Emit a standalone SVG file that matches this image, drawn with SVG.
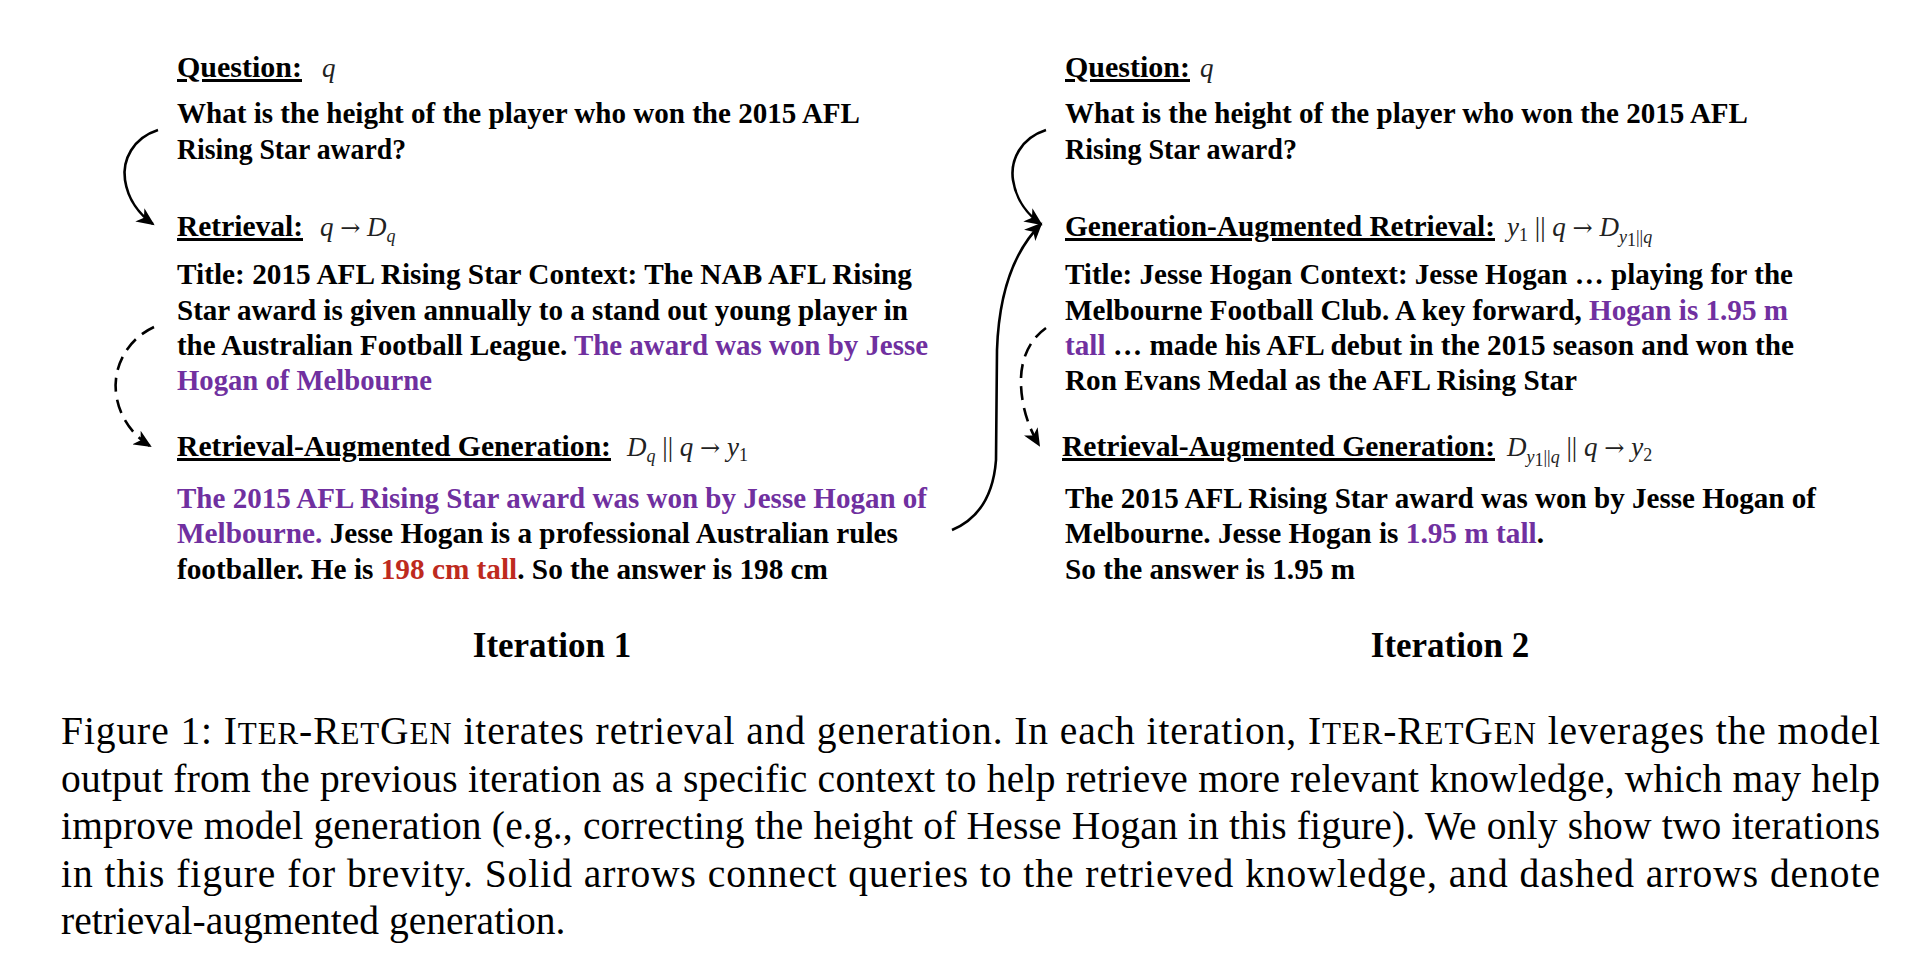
<svg xmlns="http://www.w3.org/2000/svg" width="1918" height="970" viewBox="0 0 1918 970">
<style>
.b{font-family:"Liberation Serif","Times New Roman",serif;font-weight:bold;font-size:30px;fill:#000}
.h{font-family:"Liberation Serif","Times New Roman",serif;font-weight:bold;font-size:30px;fill:#000;text-decoration:underline}
.m{font-family:"Liberation Serif","Times New Roman",serif;font-style:italic;font-size:27px;fill:#222}
.mu{font-style:normal}
.ar{font-family:"DejaVu Serif",serif;font-style:normal;font-size:24px}
.s{font-size:18px}
.p{fill:#7030A0}
.r{fill:#BE2A1E}
.it{font-family:"Liberation Serif","Times New Roman",serif;font-weight:bold;font-size:35px;fill:#000}
.c{font-family:"Liberation Serif","Times New Roman",serif;font-size:39.5px;fill:#000}
.sc{font-size:31px}
.arr{fill:none;stroke:#000;stroke-width:2.6}
.dash{stroke-dasharray:14 8}
</style>
<defs>
<marker id="ah" markerUnits="userSpaceOnUse" markerWidth="20" markerHeight="16" refX="16" refY="8" orient="auto">
<path d="M0,0 L18,8 L0,16 L5,8 z" fill="#000"/>
</marker>
</defs>

<g id="iter1-question">
<text class="h" x="177" y="77" textLength="125" lengthAdjust="spacingAndGlyphs">Question:</text>
<text class="m" x="322" y="77">q</text>
<text class="b" x="177" y="123" textLength="683" lengthAdjust="spacingAndGlyphs">What is the height of the player who won the 2015 AFL</text>
<text class="b" x="177" y="158.5" textLength="229" lengthAdjust="spacingAndGlyphs">Rising Star award?</text>
</g>

<g id="iter1-retrieval">
<text class="h" x="177" y="236" textLength="126" lengthAdjust="spacingAndGlyphs">Retrieval:</text>
<text class="m" x="320" y="236">q <tspan class="ar">→</tspan> D<tspan class="s" dy="6">q</tspan></text>
<text class="b" x="177" y="284" textLength="735" lengthAdjust="spacingAndGlyphs">Title: 2015 AFL Rising Star Context: The NAB AFL Rising</text>
<text class="b" x="177" y="319.5" textLength="731" lengthAdjust="spacingAndGlyphs">Star award is given annually to a stand out young player in</text>
<text class="b" x="177" y="355" textLength="751" lengthAdjust="spacingAndGlyphs">the Australian Football League. <tspan class="p">The award was won by Jesse</tspan></text>
<text class="b p" x="177" y="390" textLength="255" lengthAdjust="spacingAndGlyphs">Hogan of Melbourne</text>
</g>

<g id="iter1-rag">
<text class="h" x="177" y="456" textLength="434" lengthAdjust="spacingAndGlyphs">Retrieval-Augmented Generation:</text>
<text class="m" x="627" y="456">D<tspan class="s" dy="6">q</tspan><tspan class="mu" dy="-6"> || </tspan>q <tspan class="ar">→</tspan> y<tspan class="s mu" dy="5">1</tspan></text>
<text class="b" x="177" y="507.6" textLength="750" lengthAdjust="spacingAndGlyphs"><tspan class="p">The 2015 AFL Rising Star award was won by Jesse Hogan of</tspan></text>
<text class="b" x="177" y="543" textLength="721" lengthAdjust="spacingAndGlyphs"><tspan class="p">Melbourne.</tspan> Jesse Hogan is a professional Australian rules</text>
<text class="b" x="177" y="578.5" textLength="651" lengthAdjust="spacingAndGlyphs">footballer. He is <tspan class="r">198 cm tall</tspan>. So the answer is 198 cm</text>
</g>

<g id="iter1-label">
<text class="it" x="552" y="657" text-anchor="middle">Iteration 1</text>
</g>

<g id="iter2-question">
<text class="h" x="1065" y="77" textLength="125" lengthAdjust="spacingAndGlyphs">Question:</text>
<text class="m" x="1200" y="77">q</text>
<text class="b" x="1065" y="123" textLength="683" lengthAdjust="spacingAndGlyphs">What is the height of the player who won the 2015 AFL</text>
<text class="b" x="1065" y="158.5" textLength="232" lengthAdjust="spacingAndGlyphs">Rising Star award?</text>
</g>

<g id="iter2-retrieval">
<text class="h" x="1065" y="236" textLength="430" lengthAdjust="spacingAndGlyphs">Generation-Augmented Retrieval:</text>
<text class="m" x="1507" y="236">y<tspan class="s mu" dy="5">1</tspan><tspan class="mu" dy="-5"> || </tspan>q <tspan class="ar">→</tspan> D<tspan class="s" dy="7">y</tspan><tspan class="s mu" font-size="13" dy="3">1</tspan><tspan class="s mu" dy="-3">||</tspan><tspan class="s">q</tspan></text>
<text class="b" x="1065" y="284" textLength="728" lengthAdjust="spacingAndGlyphs">Title: Jesse Hogan Context: Jesse Hogan … playing for the</text>
<text class="b" x="1065" y="319.5" textLength="723" lengthAdjust="spacingAndGlyphs">Melbourne Football Club. A key forward, <tspan class="p">Hogan is 1.95 m</tspan></text>
<text class="b" x="1065" y="355" textLength="729" lengthAdjust="spacingAndGlyphs"><tspan class="p">tall</tspan> … made his AFL debut in the 2015 season and won the</text>
<text class="b" x="1065" y="390" textLength="512" lengthAdjust="spacingAndGlyphs">Ron Evans Medal as the AFL Rising Star</text>
</g>

<g id="iter2-rag">
<text class="h" x="1062" y="456" textLength="433" lengthAdjust="spacingAndGlyphs">Retrieval-Augmented Generation:</text>
<text class="m" x="1507" y="456">D<tspan class="s" dy="7">y</tspan><tspan class="s mu" font-size="13" dy="3">1</tspan><tspan class="s mu" dy="-3">||</tspan><tspan class="s">q</tspan><tspan class="mu" dy="-7"> || </tspan>q <tspan class="ar">→</tspan> y<tspan class="s mu" dy="5">2</tspan></text>
<text class="b" x="1065" y="507.6" textLength="751" lengthAdjust="spacingAndGlyphs">The 2015 AFL Rising Star award was won by Jesse Hogan of</text>
<text class="b" x="1065" y="543" textLength="479" lengthAdjust="spacingAndGlyphs">Melbourne. Jesse Hogan is <tspan class="p">1.95 m tall</tspan>.</text>
<text class="b" x="1065" y="578.5" textLength="290" lengthAdjust="spacingAndGlyphs">So the answer is 1.95 m</text>
</g>

<g id="iter2-label">
<text class="it" x="1450" y="657" text-anchor="middle">Iteration 2</text>
</g>

<g id="connectors">
<path class="arr" marker-end="url(#ah)" d="M158,130 C133,138 122,160 125,180 C128,200 140,215 153,224"/>
<path class="arr dash" marker-end="url(#ah)" d="M154,327 C126,340 113,368 116,393 C119,418 134,436 150,446"/>
<path class="arr" marker-end="url(#ah)" d="M1046,130 C1021,138 1010,160 1013,180 C1016,200 1028,215 1041,224"/>
<path class="arr" marker-end="url(#ah)" d="M952,530 C976,520 993,500 996,460 L997,350 C999,290 1015,250 1041,224"/>
<path class="arr dash" marker-end="url(#ah)" d="M1046,328 C1029,340 1020,360 1021,385 C1022,410 1030,430 1039,445"/>
</g>

<g id="caption">
<text class="c" x="61" y="744" textLength="1819" lengthAdjust="spacing">Figure 1: I<tspan class="sc">TER</tspan>-R<tspan class="sc">ET</tspan>G<tspan class="sc">EN</tspan> iterates retrieval and generation. In each iteration, I<tspan class="sc">TER</tspan>-R<tspan class="sc">ET</tspan>G<tspan class="sc">EN</tspan> leverages the model</text>
<text class="c" x="61" y="791.5" textLength="1819" lengthAdjust="spacing">output from the previous iteration as a specific context to help retrieve more relevant knowledge, which may help</text>
<text class="c" x="61" y="839" textLength="1819" lengthAdjust="spacing">improve model generation (e.g., correcting the height of Hesse Hogan in this figure). We only show two iterations</text>
<text class="c" x="61" y="886.5" textLength="1819" lengthAdjust="spacing">in this figure for brevity.  Solid arrows connect queries to the retrieved knowledge, and dashed arrows denote</text>
<text class="c" x="61" y="934">retrieval-augmented generation.</text>
</g>
</svg>
